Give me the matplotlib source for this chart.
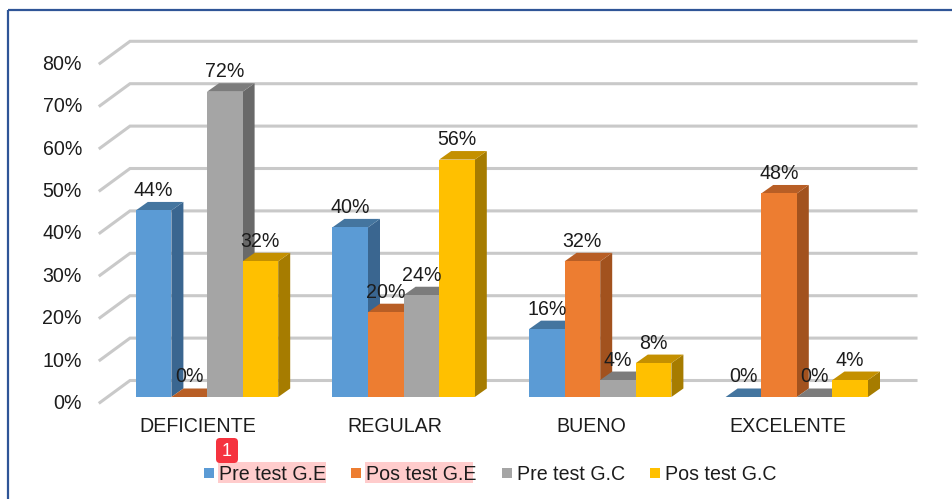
import matplotlib
matplotlib.use('Agg')
import matplotlib.pyplot as plt
from matplotlib.patches import Polygon, Rectangle, FancyBboxPatch
from matplotlib.transforms import Affine2D

categories = ['DEFICIENTE', 'REGULAR', 'BUENO', 'EXCELENTE']
pre_ge = [44, 40, 16, 0]
pos_ge = [0, 20, 32, 48]
pre_gc = [72, 24, 4, 0]
pos_gc = [32, 56, 8, 4]
series_names = ['Pre test G.E', 'Pos test G.E', 'Pre test G.C', 'Pos test G.C']
y_ticks = [0, 10, 20, 30, 40, 50, 60, 70, 80]

front_colors = ['#5B9BD5', '#ED7D31', '#A5A5A5', '#FFC000']
top_colors = ['#44759F', '#B85E25', '#7C7C7C', '#C49000']
side_colors = ['#3A6690', '#A2521E', '#696969', '#A67C00']

W, H = 952, 499
PX_X = 196.6      # pixels per category
PX_Y = 4.24       # pixels per percent
X0 = 207.0        # pixel of first category centre
Y0 = 397.0        # pixel of 0% on the bar fronts
BAR = 35.6 / PX_X
DX_BAR, DY_BAR = 12 / PX_X, 8.5 / PX_Y   # depth of a bar
WALL_X = (130 - X0) / PX_X                # where the back wall starts
LEFT_X = (100 - X0) / PX_X                # front end of the side wall
RIGHT_X = (916 - X0) / PX_X
DY_WALL = 16.5 / PX_Y
DY_LEFT = -5.5 / PX_Y

plt.rcParams['font.family'] = ['Liberation Sans', 'DejaVu Sans']
FS = 14.1
TXT = '#1c1c1c'

fig = plt.figure(figsize=(W / 100, H / 100), dpi=100, facecolor='white')
ax = fig.add_axes([0, 0, 1, 1])
ax.set_xlim(-X0 / PX_X, (W - X0) / PX_X)
ax.set_ylim(-(H - Y0) / PX_Y, Y0 / PX_Y)
ax.axis('off')

# pixel coordinates, origin at the top left
px = Affine2D().scale(1, -1).translate(0, H)

# panel frame
ax.add_patch(Rectangle((7.5, 10), W, H, transform=px, fill=False, ec='#2F5597', lw=1.6, zorder=1))

# walls
for v in y_ticks:
    ax.plot([LEFT_X, WALL_X, RIGHT_X],
            [v + DY_LEFT, v + DY_WALL, v + DY_WALL],
            color='#C9C9C9', lw=2.2, zorder=2, solid_joinstyle='miter')
    ax.text(LEFT_X - 18 / PX_X, v + DY_LEFT - 0.25, '%d%%' % v, ha='right', va='center',
            fontsize=FS, color=TXT, zorder=20)

# bars, left to right so that each one hides the side of the one before
all_series = [pre_ge, pos_ge, pre_gc, pos_gc]
labels = []
zo = 3
for c in range(len(categories)):
    for s, values in enumerate(all_series):
        v = values[c]
        left = c + (s - 2) * BAR
        right = left + BAR
        ax.add_patch(Polygon([(right, 0), (right + DX_BAR, DY_BAR), (right + DX_BAR, v + DY_BAR), (right, v)],
                             fc=side_colors[s], ec='none', zorder=zo))
        ax.add_patch(Polygon([(left, v), (right, v), (right + DX_BAR, v + DY_BAR), (left + DX_BAR, v + DY_BAR)],
                             fc=top_colors[s], ec='none', zorder=zo))
        ax.bar(left + BAR / 2, v, BAR, color=front_colors[s], zorder=zo + 0.5)
        zo += 1
        labels.append((left + BAR / 2, v, '%d%%' % v))

for x, v, t in labels:
    ax.text(x, v + 20 / PX_Y, t, ha='center', va='center', fontsize=FS, color=TXT, zorder=30)

for c, name in enumerate(categories):
    ax.text(c - 9 / PX_X, -30 / PX_Y, name, ha='center', va='center', fontsize=FS, color=TXT, zorder=30)

# legend
legend_x = [204, 351, 502, 650]
for name, col, lx, hl in zip(series_names, front_colors, legend_x, [True, True, False, False]):
    ax.add_patch(Rectangle((lx, 468), 10, 10, transform=px, fc=col, ec='none', zorder=30))
    ax.text(lx + 15, 474, name, transform=px, ha='left', va='center', fontsize=FS, color=TXT, zorder=32)
    if hl:
        ax.add_patch(Rectangle((lx + 14, 462), 108, 21, transform=px, fc='#FFCCCC', ec='none', zorder=31))

# badge
ax.add_patch(FancyBboxPatch((219, 441), 16, 19, boxstyle='round,pad=3,rounding_size=4', transform=px,
                            fc='#F5333F', ec='none', zorder=33))
ax.text(227, 451, '1', transform=px, ha='center', va='center', fontsize=13, color='white', zorder=34)

fig.savefig('out.png', dpi=100)
